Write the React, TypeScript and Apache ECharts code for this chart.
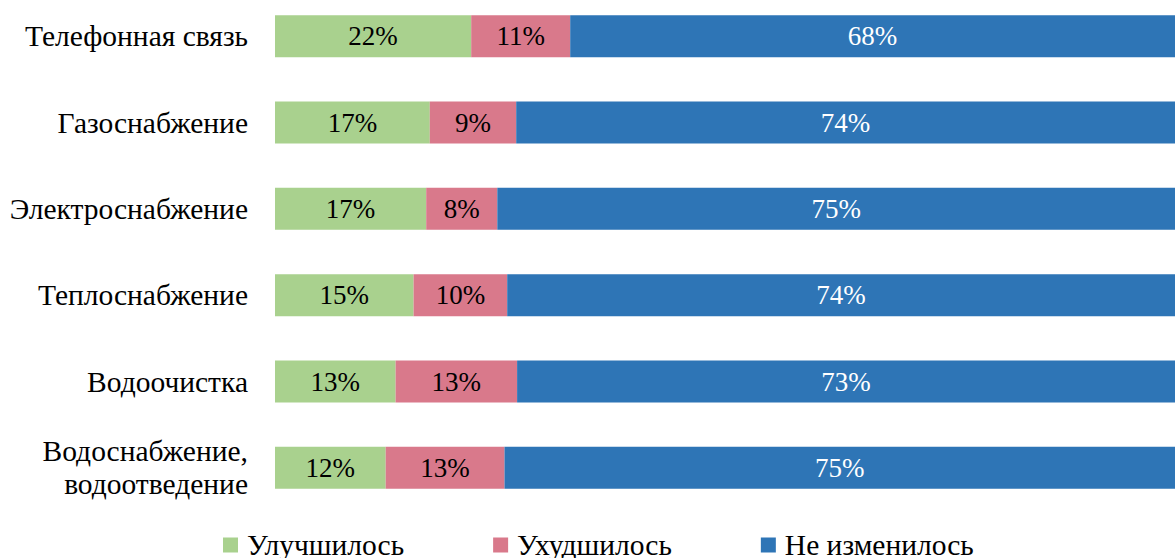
import React, { useEffect, useRef } from "react";
import * as echarts from "echarts";

const categories = [
  "Телефонная связь",
  "Газоснабжение",
  "Электроснабжение",
  "Теплоснабжение",
  "Водоочистка",
  "Водоснабжение,\nводоотведение",
];

const seriesNames = ["Улучшилось", "Ухудшилось", "Не изменилось"];

// bar shares (percent of bar length)
const improved = [21.8, 17.2, 16.8, 15.4, 13.4, 12.3];
const worsened = [11.0, 9.6, 7.9, 10.4, 13.5, 13.2];
const unchanged = [67.2, 73.2, 75.3, 74.2, 73.1, 74.5];

// printed labels
const improvedLabels = [22, 17, 17, 15, 13, 12];
const worsenedLabels = [11, 9, 8, 10, 13, 13];
const unchangedLabels = [68, 74, 75, 74, 73, 75];

const colors = ["#A9D18E", "#D9798B", "#2E75B6"];
const FONT = "Times New Roman, Liberation Serif, DejaVu Serif, serif";
const SHIFT = 7;

export default function App() {
  const ref = useRef<HTMLDivElement>(null);

  useEffect(() => {
    if (!ref.current) return;
    const chart = echarts.init(ref.current, null, { renderer: "svg" });
    const values = [improved, worsened, unchanged];
    const labels = [improvedLabels, worsenedLabels, unchangedLabels];
    const labelColors = ["#000000", "#000000", "#FFFFFF"];
    chart.setOption({
      animation: false,
      textStyle: { fontFamily: FONT },
      grid: { left: 275, right: 0, top: 0, height: 518 },
      xAxis: {
        type: "value",
        min: 0,
        max: 100,
        show: false,
      },
      yAxis: {
        type: "category",
        data: categories,
        inverse: true,
        axisLine: { show: false },
        axisTick: { show: false },
        axisLabel: {
          fontFamily: FONT,
          fontSize: 29.5,
          color: "#000000",
          margin: 27,
          lineHeight: 33,
          align: "right",
        },
      },
      legend: {
        data: seriesNames,
        left: 223,
        top: 530 + SHIFT,
        padding: 0,
        itemWidth: 15,
        itemHeight: 15,
        itemGap: 89,
        icon: "rect",
        textStyle: { fontFamily: FONT, fontSize: 29.5, color: "#000000", padding: [0, 0, 0, 4] },
      },
      series: seriesNames.map((name, i) => ({
        name,
        type: "bar",
        stack: "total",
        barWidth: 42,
        data: values[i],
        itemStyle: { color: colors[i] },
        label: {
          show: true,
          position: "inside",
          fontFamily: FONT,
          fontSize: 27,
          color: labelColors[i],
          formatter: (p: any) => labels[i][p.dataIndex] + "%",
        },
      })),
    });
    return () => chart.dispose();
  }, []);

  return (
    <div
      ref={ref}
      style={{ position: "absolute", left: 0, top: -SHIFT, width: 1175, height: 558 + SHIFT, background: "#FFFFFF" }}
    />
  );
}
